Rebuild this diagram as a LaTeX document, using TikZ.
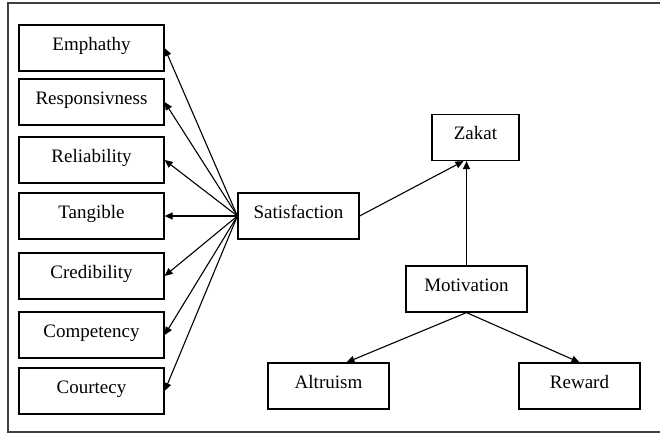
\documentclass[tikz,border=0pt]{standalone}
\usepackage{fontspec}
\setmainfont{Liberation Serif}
\newfontfamily\policeboite{Liberation Serif}
\usetikzlibrary{calc}
\usetikzlibrary{math}
\usetikzlibrary{arrows.meta}

\begin{document}
\begin{tikzpicture}[x=1pt,y=-1pt,
    boite/.style={draw,line width=1.2pt,inner xsep=2pt,inner ysep=4pt,
        text height=21pt,text depth=17pt,font=\policeboite\fontsize{19}{22}\selectfont},
    fleche/.style={line width=1.1pt,-{Triangle[length=8pt,width=7pt]}}]
            \tikzmath{\larg = 145; \haut = 46;}
            \useasboundingbox (0,0) rectangle (660,434);
            \draw[line width=1.8pt,black!75] (8,3) rectangle (675,432);
            \foreach \nom/\texte/\y in {emp/Emphathy/48,res/Responsivness/102,rel/Reliability/160,
                    tan/Tangible/216,cre/Credibility/276,com/Competency/335,cou/Courtecy/391} {
                \node[boite,minimum width=\larg,text width=\larg-4,align=center] (\nom) at (91.5,\y) {\texte};
            }
            \node[boite,minimum width=121,text width=117,align=center] (S) at (298.5,216) {Satisfaction};
            \node[boite,minimum width=87,text width=83,align=center] (Z) at (475.5,137.5) {Zakat};
            \node[boite,minimum width=121,text width=117,align=center] (M) at (466.5,289) {Motivation};
            \node[boite,minimum width=121,text width=117,align=center] (A) at (328.5,386) {Altruism};
            \node[boite,minimum width=121,text width=117,align=center] (R) at (579.5,386) {Reward};
            \foreach \p in {emp,res,rel,tan,cre,com,cou} {
                \draw[fleche] (S.west) -- (\p.east);
            }
            \draw[fleche] (S.east) -- ($(Z.south)+(-12,0)$);
            \draw[fleche] (M.north) -- (M.north |- Z.south);
            \draw[fleche] (M.south) -- ($(A.north)+(18,0)$);
            \draw[fleche] (M.south) -- (R.north);
        \end{tikzpicture}
\end{document}
